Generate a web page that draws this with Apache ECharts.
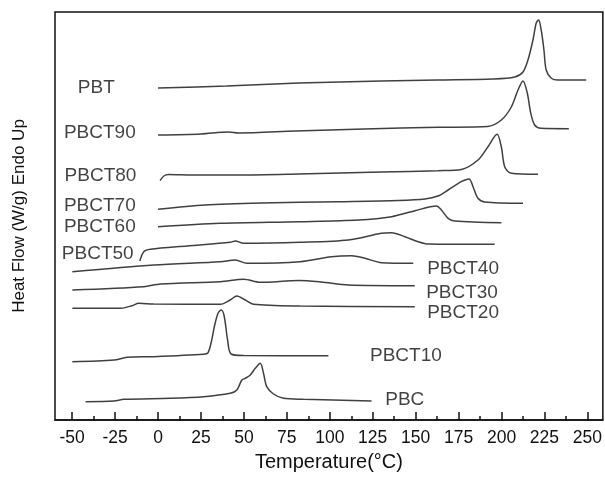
<!DOCTYPE html>
<html>
<head>
<meta charset="utf-8">
<script src="https://cdn.jsdelivr.net/npm/echarts@6/dist/echarts.min.js"></script>
<style>
  html, body { margin: 0; padding: 0; background: #fff; }
</style>
</head>
<body>
<div id="main" style="width: 605px; height: 479px"></div>
<script>
// DSC traces, [temperature, heat flow (arbitrary, offset per sample)]
const pbt = [[0,332],[40,334],[81.8,337],[130,339],[163,340],[195,341],[207.7,343],[212.5,348],[215.4,360],[218.3,380],[220.2,397],[221.6,400],[223.1,390],[224.7,370],[226,350],[229,341.7],[232.8,340],[249.3,340]]
const pbct90 = [[0,285],[25,286],[41,288],[47,287],[80,289],[120,291],[163,292.7],[192,293.5],[199.9,300],[205.7,313],[209.6,330],[212.5,339],[215,327],[217,307],[219.3,295],[223,291.7],[239.2,291.3]]
const pbct80 = [[1.2,239.5],[3.4,244],[6,245.5],[20,245],[47,245],[81.7,246],[130,248],[163,249.3],[176.6,250.5],[186.3,260],[192,273],[197.4,285.7],[199.9,273],[201.9,253],[205.7,246.7],[221.2,245.7]]
const pbct70 = [[0,210.7],[27.5,215],[60,217],[105,218.3],[140,219.5],[155.4,221],[163,224],[168.9,230],[176.6,238.3],[181.1,241],[183.4,233.3],[186.3,221.7],[190.2,218],[212.5,216.7]]
const pbct60 = [[0,193.3],[36,196.7],[82.7,198.3],[116.6,200],[136,203.3],[149.6,209.3],[162.1,214],[165,210],[168.9,201.7],[172.8,199],[199.9,197.3]]
const pbct50 = [[-10.6,159],[-8.3,168.3],[-4.4,170.7],[16.9,174],[42,177.7],[45,179],[49.8,176.7],[82.7,177.7],[110.8,180],[130,186.7],[136,187.3],[143.7,183.3],[151.5,178.3],[157.3,176],[196,175.7]]
const pbct40 = [[-49.9,148.3],[-2.5,155],[36.3,158.3],[45,160],[51.7,156.7],[82.7,158.3],[101,163.3],[112.7,164.3],[120.5,161.7],[130.2,157.3],[148.6,156.7]]
const pbct30 = [[-49.9,130],[-8.3,133.3],[1.4,136],[36.3,138.3],[49.8,140.7],[59.5,137.7],[82,139.5],[95,138],[110.8,135],[149.5,134.3]]
const pbct20 = [[-49.9,111.7],[-21.8,111.7],[-15.1,114.3],[-11.2,116.7],[-2.5,116],[36.3,115.7],[42,120],[45.9,124],[50.8,120],[55.6,115.7],[82.7,114],[149.5,113.3]]
const pbct10 = [[-49.9,58.3],[-25.7,60],[-18,62.7],[-2.5,63.3],[26.6,65.7],[29,67],[31,78],[33,95],[35,107],[36.8,110],[38.5,104],[40.5,80],[42.5,66],[50,64.5],[99.2,64.3]]
const pbc = [[-42.2,18.3],[-25.7,19],[-19.9,20.7],[7.2,21.7],[26.6,23.3],[42,26.7],[45.9,30],[48.8,40],[50.8,41.7],[53.7,45],[56.6,51.7],[59.5,56.7],[61.4,46.7],[63.3,33.3],[67.2,26],[73,21.7],[84.7,20.7],[124.3,19]]

const traces = [pbt, pbct90, pbct80, pbct70, pbct60, pbct50, pbct40, pbct30, pbct20, pbct10, pbc]

// sample names and where their labels sit (left edge, middle)
const labelNames = ['PBT','PBCT90','PBCT80','PBCT70','PBCT60','PBCT50','PBCT40','PBCT30','PBCT20','PBCT10','PBC']
const labelX = [-46.7,-54.8,-54.4,-54.8,-54.8,-56,156.7,156.1,156.7,123.4,132.3]
const labelY = [332,287,244,214,193,166,151,127.5,107,64,20]

const majorTicks = [-50,-25,0,25,50,75,100,125,150,175,200,225,250]
const minorTicks = [-37.5,-12.5,12.5,37.5,62.5,87.5,112.5,137.5,162.5,187.5,212.5,237.5]

const FONT = 'Liberation Sans, Arial, sans-serif'

const myChart = echarts.init(document.getElementById('main'))

const series = traces.map((d, i) => ({
  name: labelNames[i],
  type: 'line',
  data: d,
  smooth: 0.3,
  showSymbol: false,
  lineStyle: { color: '#404040', width: 1.5 },
  silent: true
}))

series.push({
  type: 'scatter',
  symbolSize: 0,
  data: labelNames.map((n, i) => [labelX[i], labelY[i], n]),
  label: {
    show: true,
    position: 'inside',
    align: 'left',
    verticalAlign: 'middle',
    formatter: p => p.data[2],
    fontFamily: FONT,
    fontSize: 19,
    color: '#111'
  },
  silent: true
})

myChart.setOption({
  animation: false,
  grid: {
    left: 55, top: 12, right: 1, bottom: 59,
    show: true, borderColor: '#111', borderWidth: 1.5
  },
  xAxis: [
    {
      type: 'value',
      min: -60,
      max: 259,
      name: 'Temperature(°C)',
      nameLocation: 'middle',
      nameGap: 32,
      nameTextStyle: { fontFamily: FONT, fontSize: 20, color: '#111' },
      splitLine: { show: false },
      axisLine: { show: true, lineStyle: { color: '#111', width: 1.5 } },
      axisTick: { show: true, inside: true, length: 8, customValues: majorTicks, lineStyle: { color: '#111', width: 1.5 } },
      axisLabel: { customValues: majorTicks, margin: 9, fontFamily: FONT, fontSize: 17.5, color: '#111' }
    },
    {
      type: 'value',
      min: -60,
      max: 259,
      position: 'bottom',
      splitLine: { show: false },
      axisLine: { show: false },
      axisTick: { show: true, inside: true, length: 4, customValues: minorTicks, lineStyle: { color: '#111', width: 1.5 } },
      axisLabel: { show: false, customValues: minorTicks }
    }
  ],
  yAxis: {
    type: 'value',
    min: 0,
    max: 408,
    name: 'Heat Flow (W/g) Endo Up',
    nameLocation: 'middle',
    nameGap: 27,
    nameTextStyle: { fontFamily: FONT, fontSize: 17, color: '#111' },
    splitLine: { show: false },
    axisLine: { show: false },
    axisTick: { show: false },
    axisLabel: { show: false }
  },
  series: series
})
</script>
</body>
</html>
